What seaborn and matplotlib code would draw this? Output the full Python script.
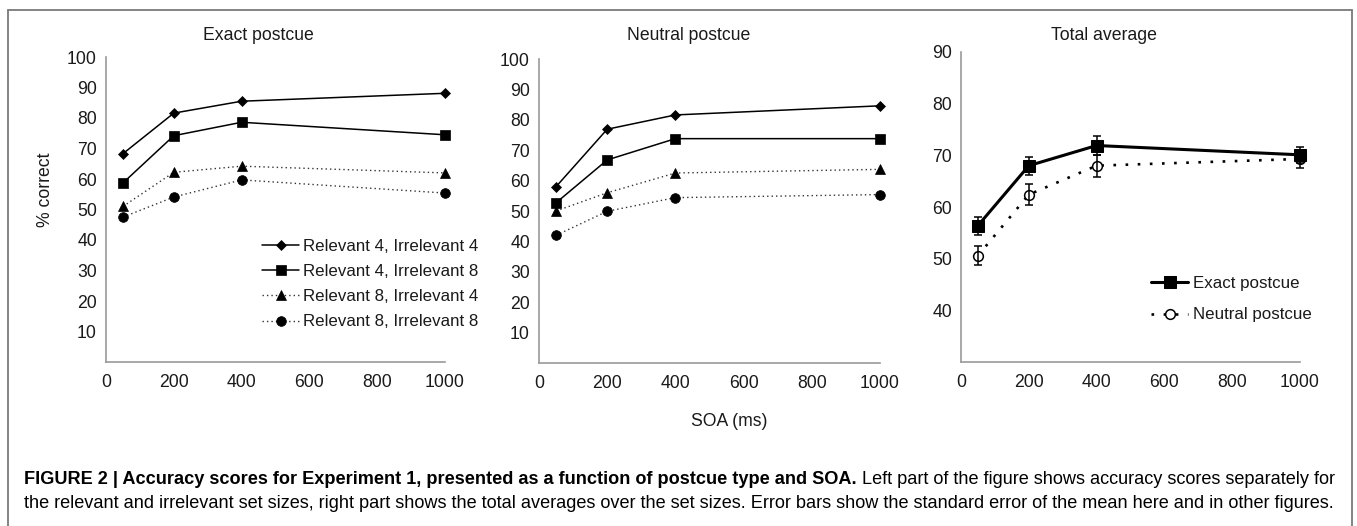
import matplotlib
matplotlib.use("Agg")
import matplotlib.pyplot as plt
from matplotlib.lines import Line2D
import seaborn as sns

# ---------------- data ----------------
soa = [50, 200, 400, 1000]

series_labels = ["Relevant 4, Irrelevant 4", "Relevant 4, Irrelevant 8",
                 "Relevant 8, Irrelevant 4", "Relevant 8, Irrelevant 8"]

exact_r4i4 = [68.3, 81.6, 85.5, 88.1]
exact_r4i8 = [58.7, 74.2, 78.6, 74.5]
exact_r8i4 = [51.0, 62.2, 64.2, 62.0]
exact_r8i8 = [47.5, 54.1, 59.7, 55.4]

neutral_r4i4 = [58.0, 76.9, 81.6, 84.6]
neutral_r4i8 = [52.7, 66.8, 73.8, 73.8]
neutral_r8i4 = [50.0, 56.0, 62.5, 63.7]
neutral_r8i8 = [42.0, 49.9, 54.4, 55.4]

avg_labels = ["Exact postcue", "Neutral postcue"]
avg_exact = [56.4, 68.0, 71.9, 70.1]
avg_neutral = [50.6, 62.4, 68.0, 69.3]
se_exact = [1.75, 1.75, 1.75, 1.5]
se_neutral = [1.9, 2.1, 2.1, 1.75]

titles = ["Exact postcue", "Neutral postcue", "Total average"]
xticks = [0, 200, 400, 600, 800, 1000]
yticks_sets = [10, 20, 30, 40, 50, 60, 70, 80, 90, 100]
yticks_avg = [40, 50, 60, 70, 80, 90]

# ---------------- style ----------------
sns.set_theme(style="white")
FONT = ["Liberation Sans", "DejaVu Sans"]
plt.rcParams["font.family"] = FONT

W, H = 1357, 526
fig = plt.figure(figsize=(W / 100, H / 100), dpi=100)

def fx(px):
    return px / W

def fy(py):
    return 1 - py / H

def axes_px(left, right, top, bottom):
    return fig.add_axes([fx(left), fy(bottom), fx(right) - fx(left), fy(top) - fy(bottom)])

ax1 = axes_px(106, 445, 57, 362)
ax2 = axes_px(539, 880, 59, 363)
ax3 = axes_px(961, 1300, 52, 362)

SPINE = "#9a9a9a"
TXT = "#1a1a1a"
TICKFS = 12.7
LEGFS = 12.2

for ax in (ax1, ax2, ax3):
    ax.set_facecolor("white")
    for s in ("top", "right"):
        ax.spines[s].set_visible(False)
    for s in ("left", "bottom"):
        ax.spines[s].set_color(SPINE)
        ax.spines[s].set_linewidth(1.2)
    ax.tick_params(axis="both", which="both", direction="out", length=3.5, width=1.0,
                   color=SPINE, labelcolor=TXT, labelsize=TICKFS, pad=3)
    ax.tick_params(axis="x", pad=5)
    ax.set_xlim(0, 1000)
    ax.set_xticks(xticks)
    ax.set_xlabel("")
    ax.set_ylabel("")
    ax.grid(False)

styles = [
    dict(marker="D", markersize=5.5, linestyle="-", lw=1.1, color="black"),
    dict(marker="s", markersize=7.5, linestyle="-", lw=1.1, color="black"),
    dict(marker="^", markersize=7, linestyle=(0, (1, 2.2)), lw=1.0, color="#333333"),
    dict(marker="o", markersize=7, linestyle=(0, (1, 2.2)), lw=1.0, color="#333333"),
]

panel_data = [
    (ax1, [exact_r4i4, exact_r4i8, exact_r8i4, exact_r8i8]),
    (ax2, [neutral_r4i4, neutral_r4i8, neutral_r8i4, neutral_r8i8]),
]

for ax, vals_list in panel_data:
    for vals, lab, st in zip(vals_list, series_labels, styles):
        sns.lineplot(x=soa, y=vals, ax=ax, label=lab, color=st["color"],
                     linestyle=st["linestyle"], linewidth=st["lw"],
                     marker=st["marker"], markersize=st["markersize"],
                     markerfacecolor="black", markeredgecolor="black",
                     markeredgewidth=0.5, legend=False, clip_on=False)
    ax.set_ylim(0, 100)
    ax.set_yticks(yticks_sets)

# legend in first panel
h, l = ax1.get_legend_handles_labels()
ax1.legend(h, l, loc="upper left", bbox_to_anchor=(fx(262), fy(239)),
           bbox_transform=fig.transFigure, frameon=False, fontsize=LEGFS,
           handlelength=2.2, handletextpad=0.2, labelspacing=0.6,
           borderpad=0, borderaxespad=0, labelcolor=TXT)
if ax2.get_legend():
    ax2.get_legend().remove()

# third panel: averages with error bars
sns.lineplot(x=soa, y=avg_exact, ax=ax3, label=avg_labels[0], color="black",
             linestyle="-", linewidth=2.2, marker="s", markersize=9,
             markerfacecolor="black", markeredgecolor="black", legend=False,
             zorder=3, clip_on=False)
sns.lineplot(x=soa, y=avg_neutral, ax=ax3, label=avg_labels[1], color="black",
             linestyle=(0, (1, 3.6)), linewidth=1.9, marker="o", markersize=7,
             markerfacecolor="white", markeredgecolor="black", markeredgewidth=1.1,
             legend=False, zorder=2, clip_on=False)
for vals, err in ((avg_exact, se_exact), (avg_neutral, se_neutral)):
    eb = ax3.errorbar(soa, vals, yerr=err, fmt="none", ecolor="black",
                      elinewidth=1.1, capsize=3, capthick=1.1, zorder=4)
    for art in eb.lines[1]:
        art.set_clip_on(False)
    for art in eb.lines[2]:
        art.set_clip_on(False)
ax3.set_ylim(30, 90)
ax3.set_yticks(yticks_avg)
h3, l3 = ax3.get_legend_handles_labels()
h3, l3 = h3[:2], l3[:2]
ax3.legend(h3, l3, loc="upper left", bbox_to_anchor=(fx(1151), fy(276)),
           bbox_transform=fig.transFigure, frameon=False, fontsize=LEGFS,
           handlelength=2.2, handletextpad=0.3, labelspacing=0.97,
           borderpad=0, borderaxespad=0, labelcolor=TXT)

# titles and axis labels
for ax, t, cx in zip((ax1, ax2, ax3), titles, (258, 689, 1104)):
    fig.text(fx(cx), fy(35), t, ha="center", va="center", fontsize=TICKFS, color=TXT)

fig.text(fx(45), fy(190), "% correct", rotation=90, ha="center", va="center",
         fontsize=TICKFS, color=TXT)
fig.text(fx(729), fy(422), "SOA (ms)", ha="center", va="center",
         fontsize=TICKFS, color=TXT)

# frame around the figure (open at bottom)
FRAME = "#7a7a7a"
fig.add_artist(Line2D([fx(8), fx(8)], [fy(10), 0], color=FRAME, lw=1.3))
fig.add_artist(Line2D([fx(1352), fx(1352)], [fy(10), 0], color=FRAME, lw=1.3))
fig.add_artist(Line2D([fx(8), fx(1352)], [fy(10), fy(10)], color=FRAME, lw=1.3))

# caption
CAPFS = 13.05
renderer = fig.canvas.get_renderer()
bold1 = "FIGURE 2 | Accuracy scores for Experiment 1, presented as a function of postcue type and SOA."
reg1 = " Left part of the figure shows accuracy scores separately for"
line2 = ("the relevant and irrelevant set sizes, right part shows the total averages over the set sizes. "
         "Error bars show the standard error of the mean here and in other figures.")
tb = fig.text(fx(24), fy(479), bold1, ha="left", va="center", fontsize=CAPFS,
              fontweight="bold", color="black")
bb = tb.get_window_extent(renderer=renderer)
fig.text(bb.x1 / (W), fy(479), reg1, ha="left", va="center", fontsize=CAPFS, color="black")
fig.text(fx(24), fy(504), line2, ha="left", va="center", fontsize=CAPFS, color="black")

fig.savefig("out.png", dpi=100, facecolor="white")
